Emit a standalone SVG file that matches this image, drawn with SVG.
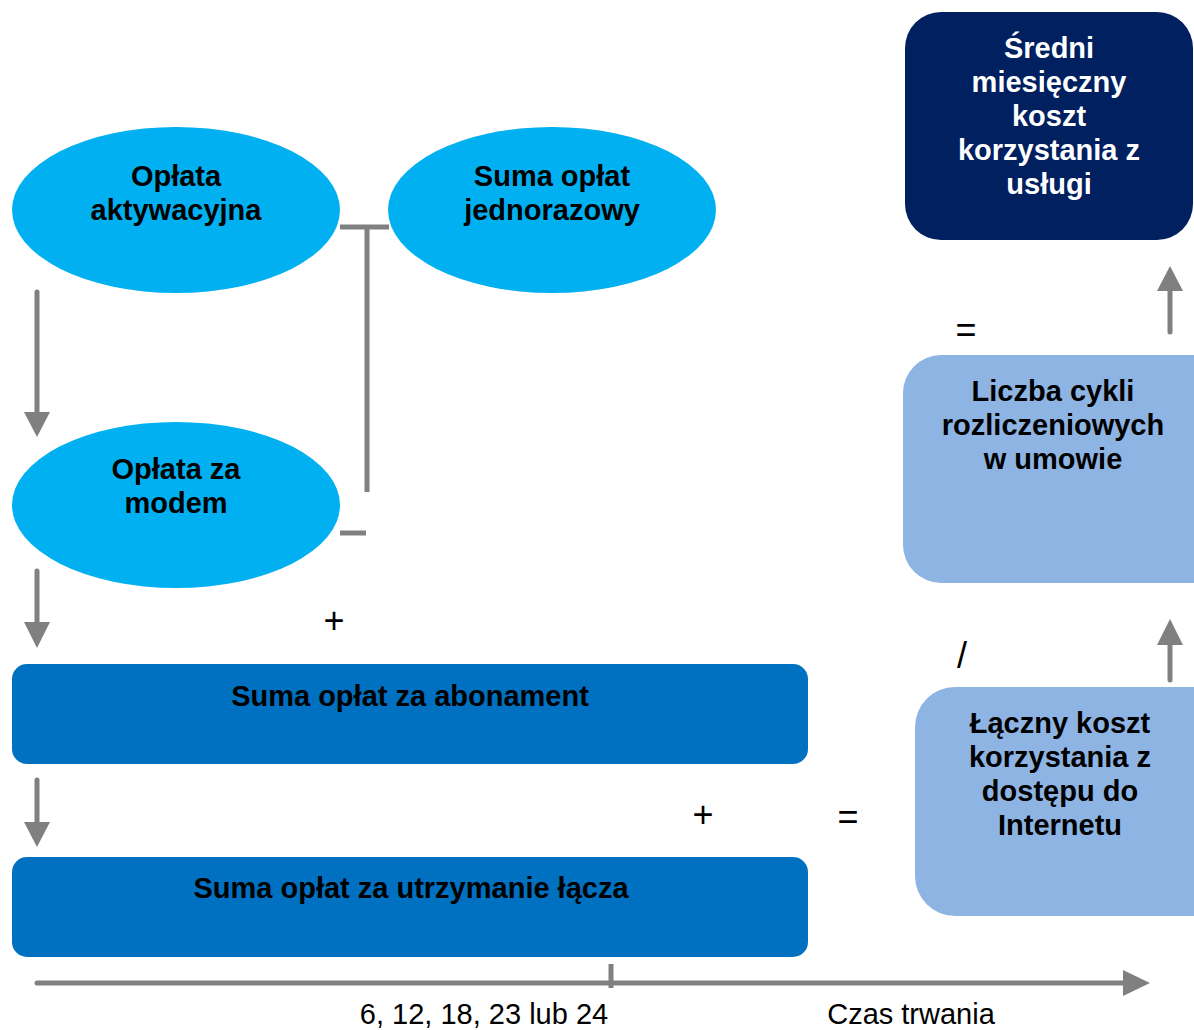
<svg xmlns="http://www.w3.org/2000/svg" width="1194" height="1030" viewBox="0 0 1194 1030">
<style>
.t{font-family:"Liberation Sans",Arial,sans-serif;font-weight:bold;font-size:29px;fill:#000;text-anchor:middle}
.w{fill:#fff}
.op{font-family:"Liberation Sans",Arial,sans-serif;font-size:36px;fill:#000;text-anchor:middle}
.lbl{font-family:"Liberation Sans",Arial,sans-serif;font-size:29px;fill:#000;text-anchor:middle}
.ln{stroke:#808080;stroke-width:5;fill:none}
.ah{fill:#808080}
</style>
<rect width="1194" height="1030" fill="#fff"/>
<g id="connectors">
  <line class="ln" x1="37" y1="292" x2="37" y2="414" stroke-linecap="round"/>
  <polygon class="ah" points="24,412 50,412 37,437"/>
  <line class="ln" x1="37" y1="571" x2="37" y2="624" stroke-linecap="round"/>
  <polygon class="ah" points="24,622 50,622 37,648"/>
  <line class="ln" x1="37" y1="780" x2="37" y2="824" stroke-linecap="round"/>
  <polygon class="ah" points="24,822 50,822 37,847"/>
  <line class="ln" x1="340" y1="227" x2="389" y2="227"/>
  <line class="ln" x1="367" y1="227" x2="367" y2="492"/>
  <line class="ln" x1="340" y1="533" x2="366" y2="533"/>
  <line class="ln" x1="37" y1="983" x2="1125" y2="983" stroke-linecap="round"/>
  <polygon class="ah" points="1123,970 1150,983 1123,996"/>
  <line class="ln" x1="611" y1="964" x2="611" y2="988"/>
  <line class="ln" x1="1170" y1="332" x2="1170" y2="289" stroke-linecap="round"/>
  <polygon class="ah" points="1157,291 1183,291 1170,266"/>
  <line class="ln" x1="1170" y1="680" x2="1170" y2="643" stroke-linecap="round"/>
  <polygon class="ah" points="1157,645 1183,645 1170,619"/>
</g>
<g id="n-aktywacyjna">
  <ellipse cx="176" cy="210" rx="164" ry="83" fill="#00B0F0"/>
  <text class="t" x="176" y="186">Opłata</text>
  <text class="t" x="176" y="220">aktywacyjna</text>
</g>
<g id="n-jednorazowy">
  <ellipse cx="552" cy="210" rx="164" ry="83" fill="#00B0F0"/>
  <text class="t" x="552" y="186">Suma opłat</text>
  <text class="t" x="552" y="220">jednorazowy</text>
</g>
<g id="n-modem">
  <ellipse cx="176" cy="505" rx="164" ry="83" fill="#00B0F0"/>
  <text class="t" x="176" y="479">Opłata za</text>
  <text class="t" x="176" y="513">modem</text>
</g>
<g id="n-abonament">
  <rect x="12" y="664" width="796" height="100" rx="15" fill="#0070C0"/>
  <text class="t" x="410" y="706">Suma opłat za abonament</text>
</g>
<g id="n-utrzymanie">
  <rect x="12" y="857" width="796" height="100" rx="15" fill="#0070C0"/>
  <text class="t" x="411" y="898">Suma opłat za utrzymanie łącza</text>
</g>
<g id="n-laczny">
  <rect x="915" y="687" width="320" height="229" rx="40" fill="#8EB4E3"/>
  <text class="t" x="1060" y="733">Łączny koszt</text>
  <text class="t" x="1060" y="767">korzystania z</text>
  <text class="t" x="1060" y="801">dostępu do</text>
  <text class="t" x="1060" y="835">Internetu</text>
</g>
<g id="n-liczba">
  <rect x="903" y="355" width="330" height="228" rx="38" fill="#8EB4E3"/>
  <text class="t" x="1053" y="401">Liczba cykli</text>
  <text class="t" x="1053" y="435">rozliczeniowych</text>
  <text class="t" x="1053" y="469">w umowie</text>
</g>
<g id="n-sredni">
  <rect x="905" y="12" width="288" height="228" rx="36" fill="#002060"/>
  <text class="t w" x="1049" y="58">Średni</text>
  <text class="t w" x="1049" y="92">miesięczny</text>
  <text class="t w" x="1049" y="126">koszt</text>
  <text class="t w" x="1049" y="160">korzystania z</text>
  <text class="t w" x="1049" y="194">usługi</text>
</g>
<g id="operators">
  <text class="op" x="334" y="633">+</text>
  <text class="op" x="703" y="827">+</text>
  <text class="op" x="848" y="829">=</text>
  <text class="op" x="962" y="668">/</text>
  <text class="op" x="966" y="342">=</text>
</g>
<g id="axis-labels">
  <text class="lbl" x="484" y="1024">6, 12, 18, 23 lub 24</text>
  <text class="lbl" x="911" y="1024">Czas trwania</text>
</g>
</svg>
